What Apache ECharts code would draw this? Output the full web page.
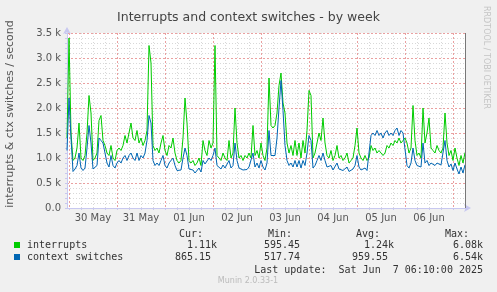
<!DOCTYPE html>
<html>
<head>
<meta charset="utf-8">
<script src="https://cdn.jsdelivr.net/npm/echarts@6/dist/echarts.min.js"></script>
<style>
  html, body { margin: 0; padding: 0; background: #f0f0f0; }
  #chart { width: 497px; height: 292px; }
</style>
</head>
<body>
<div id="chart"></div>
<script>
// hourly samples, first one is one hour before 30 May 00:00
var firstHour = -1;
var dayLabels = ['30 May', '31 May', '01 Jun', '02 Jun', '03 Jun', '04 Jun', '05 Jun', '06 Jun'];

var interrupts = [
  1400, 3400, 1500, 950, 1000, 1200, 1700, 1000, 950, 1050, 1500, 2250, 1900,
  950, 1000, 1100, 1750, 1850, 1350, 1250, 1100, 1050, 1250, 1000, 950,
  1150, 1200, 1150, 1250, 1450, 1300, 1500, 1700, 1400, 1350, 1550, 1300,
  1400, 1250, 1350, 1550, 3250, 2900, 1250, 1150, 1200, 1100, 1300, 1450,
  1150, 1050, 1250, 1200, 1400, 1100, 950, 900, 950, 1400, 2200, 1700,
  950, 900, 950, 850, 900, 1000, 850, 1350, 1150, 1050, 1350, 1200,
  1300, 3250, 1050, 1000, 950, 1100, 1000, 950, 1350, 1000, 1100, 2000,
  1300, 1000, 1050, 950, 1050, 1000, 1100, 1000, 1650, 1050, 1150, 1000,
  1300, 1050, 950, 1200, 2600, 1650, 1600, 1650, 1900, 2450, 2700, 2100,
  1900, 1300, 1100, 1250, 1050, 1350, 1050, 1300, 1000, 1350, 1100, 1550,
  2350, 2250, 1000, 1100, 1300, 1500, 1350, 1800, 1300, 1050, 1000, 1150,
  950, 1050, 1250, 1000, 1050, 950, 1000, 1100, 900, 950, 1000, 1250,
  1600, 1100, 1000, 950, 1050, 950, 1000, 1250, 1150, 1200, 1100, 1150,
  1100, 1050, 1100, 1250, 1200, 1300, 1250, 1350, 1300, 1400, 1300, 1350,
  1400, 1300, 1100, 1200, 2050, 1350, 1050, 1100, 1000, 2000, 1300, 1500,
  1800, 1200, 1150, 1100, 1250, 1150, 1100, 1200, 1900, 1300, 1050, 1150,
  950, 1200, 1000, 850, 1050, 900, 1110
];

var ctxSwitches = [
  1150, 2200, 1400, 730, 780, 850, 1100, 800, 750, 800, 1200, 1650, 1300,
  780, 800, 850, 1400, 1350, 1300, 1100, 900, 820, 1050, 850, 800,
  900, 950, 900, 1000, 1050, 950, 1050, 1100, 1000, 950, 1100, 950,
  1050, 1000, 1100, 1350, 1850, 1700, 950, 850, 900, 850, 950, 1050,
  850, 800, 900, 900, 1000, 850, 750, 720, 760, 1000, 1200, 1050,
  780, 750, 760, 700, 740, 800, 720, 950, 880, 850, 1000, 950,
  1050, 1200, 850, 820, 780, 860, 800, 760, 950, 800, 850, 1300,
  950, 800, 820, 760, 800, 770, 820, 780, 1100, 820, 900, 800,
  950, 820, 760, 900, 1550, 1050, 1050, 1050, 1400, 2000, 2550, 1950,
  1250, 950, 850, 900, 820, 950, 820, 950, 800, 950, 850, 1100,
  1450, 1350, 800, 850, 950, 1050, 950, 1100, 950, 820, 780, 850,
  760, 800, 900, 780, 820, 750, 780, 820, 730, 760, 780, 850,
  1050, 820, 760, 740, 800, 750, 780, 1450, 1500, 1450, 1550, 1450,
  1500, 1400, 1500, 1550, 1450, 1500, 1450, 1550, 1600, 1450, 1550, 1500,
  1500, 850, 800, 900, 1200, 950, 850, 880, 820, 1300, 900, 950,
  850, 900, 880, 850, 900, 870, 860, 900, 1350, 950, 820, 880,
  750, 900, 780, 680, 820, 700, 865
];

var hours = [];
for (var i = 0; i < interrupts.length; i++) {
  hours.push(String(firstHour + i));
}

var myChart = echarts.init(document.getElementById('chart'));

var axisColor = '#c8c8f0';
var majorGrid = '#eaa0a0';
var minorGrid = '#d8d8d8';
var mono = 'DejaVu Sans Mono';

function legendText(x, y, text, align, color, size, font) {
  return {
    type: 'text',
    x: x,
    y: y,
    style: {
      text: text,
      fill: color || '#333',
      font: (size || 10) + 'px "' + (font || mono) + '"',
      textAlign: align || 'left',
      textVerticalAlign: 'middle'
    }
  };
}

var option = {
  backgroundColor: '#f0f0f0',
  animation: false,
  title: {
    text: 'Interrupts and context switches - by week',
    left: 'center',
    top: 6,
    textStyle: {
      fontFamily: 'DejaVu Sans',
      fontSize: 12.5,
      fontWeight: 'normal',
      color: '#444'
    }
  },
  grid: {
    left: 67,
    top: 33,
    width: 398,
    height: 175,
    show: true,
    backgroundColor: '#ffffff',
    borderWidth: 0
  },
  xAxis: [
    {
      type: 'category',
      data: hours,
      boundaryGap: false,
      axisLine: {
        lineStyle: {color: axisColor},
        symbol: ['none', 'arrow'],
        symbolSize: [6, 7],
        symbolOffset: [0, 6]
      },
      axisTick: {
        show: true,
        length: 2,
        interval: function (index, value) { return (Number(value) % 6) === 0; },
        lineStyle: {color: axisColor}
      },
      axisLabel: {
        interval: function (index, value) { return ((Number(value) - 12) % 24) === 0; },
        formatter: function (value) {
          var k = (Number(value) - 12) / 24;
          return dayLabels[k] || '';
        },
        color: '#555',
        fontFamily: 'DejaVu Sans',
        fontSize: 10,
        margin: 5
      },
      splitLine: {
        show: true,
        interval: function (index, value) { return (Number(value) % 24) === 0; },
        lineStyle: {color: majorGrid, type: [2, 2], width: 1}
      }
    },
    {
      type: 'category',
      data: hours,
      boundaryGap: false,
      position: 'bottom',
      axisLine: {show: false},
      axisTick: {show: false},
      axisLabel: {show: false},
      splitLine: {
        show: true,
        interval: function (index, value) {
          var h = Number(value);
          return h % 6 === 0 && h % 24 !== 0;
        },
        lineStyle: {color: minorGrid, type: [1, 2], width: 1}
      }
    }
  ],
  yAxis: {
    type: 'value',
    min: 0,
    max: 3500,
    interval: 500,
    axisLine: {
      show: true,
      lineStyle: {color: axisColor},
      symbol: ['none', 'arrow'],
      symbolSize: [6, 7],
      symbolOffset: [0, 6]
    },
    axisTick: {show: true, length: 2, lineStyle: {color: axisColor}},
    minorTick: {show: true, splitNumber: 5, length: 2, lineStyle: {color: axisColor}},
    axisLabel: {
      formatter: function (v) { return v === 0 ? '0.0' : (v / 1000).toFixed(1) + ' k'; },
      color: '#555',
      fontFamily: 'DejaVu Sans',
      fontSize: 10,
      margin: 6
    },
    splitLine: {lineStyle: {color: majorGrid, type: [2, 2]}},
    minorSplitLine: {show: true, lineStyle: {color: minorGrid, type: [1, 2]}}
  },
  series: [
    {
      name: 'interrupts',
      type: 'line',
      data: interrupts,
      showSymbol: false,
      lineStyle: {color: '#00cc00', width: 1},
      itemStyle: {color: '#00cc00'},
      markLine: {
        silent: true,
        symbol: 'none',
        label: {show: false},
        lineStyle: {color: '#777', type: 'solid', width: 1},
        data: [{xAxis: hours.length - 1}]
      }
    },
    {
      name: 'context switches',
      type: 'line',
      data: ctxSwitches,
      showSymbol: false,
      lineStyle: {color: '#0066b3', width: 1},
      itemStyle: {color: '#0066b3'}
    }
  ],
  graphic: [
    {
      type: 'text',
      x: 10,
      y: 114,
      rotation: Math.PI / 2,
      style: {
        text: 'interrupts & ctx switches / second',
        fill: '#555',
        font: '11px "DejaVu Sans"',
        textAlign: 'center',
        textVerticalAlign: 'middle'
      }
    },
    {
      type: 'text',
      x: 486,
      y: 6,
      rotation: -Math.PI / 2,
      style: {
        text: 'RRDTOOL / TOBI OETIKER',
        fill: '#c4c4c4',
        font: '8px "DejaVu Sans"',
        textAlign: 'left',
        textVerticalAlign: 'middle'
      }
    },
    legendText(203, 234, 'Cur:', 'right'),
    legendText(292, 234, 'Min:', 'right'),
    legendText(380, 234, 'Avg:', 'right'),
    legendText(469, 234, 'Max:', 'right'),
    {type: 'rect', shape: {x: 14, y: 242, width: 6, height: 6}, style: {fill: '#00cc00'}},
    legendText(27, 245, 'interrupts'),
    legendText(217, 245, '1.11k', 'right'),
    legendText(300, 245, '595.45', 'right'),
    legendText(394, 245, '1.24k', 'right'),
    legendText(483, 245, '6.08k', 'right'),
    {type: 'rect', shape: {x: 14, y: 254, width: 6, height: 6}, style: {fill: '#0066b3'}},
    legendText(27, 257, 'context switches'),
    legendText(211, 257, '865.15', 'right'),
    legendText(300, 257, '517.74', 'right'),
    legendText(388, 257, '959.55', 'right'),
    legendText(483, 257, '6.54k', 'right'),
    legendText(483, 270, 'Last update:  Sat Jun  7 06:10:00 2025', 'right'),
    legendText(248, 281, 'Munin 2.0.33-1', 'center', '#bbbbbb', 8, 'DejaVu Sans')
  ]
};

myChart.setOption(option);
</script>
</body>
</html>
